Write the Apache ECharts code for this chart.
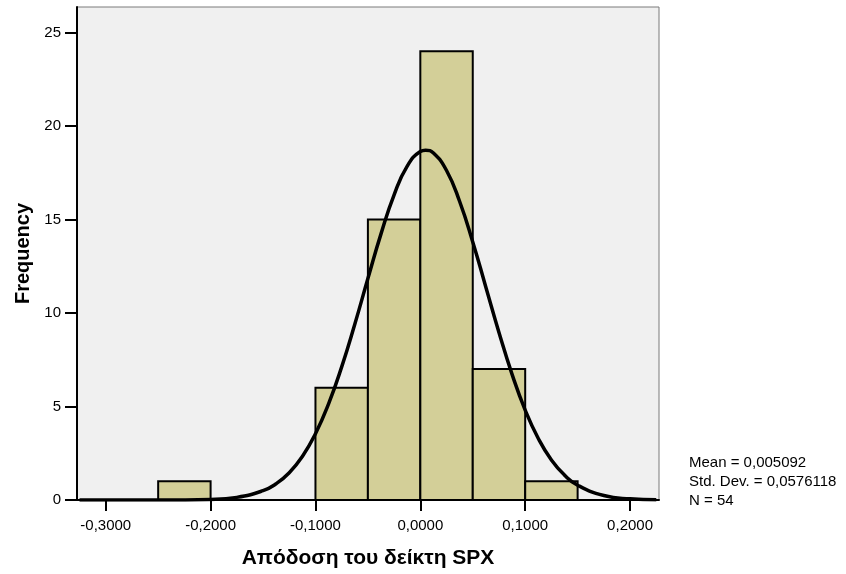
<!DOCTYPE html>
<html>
<head>
<meta charset="utf-8">
<script src="https://cdn.jsdelivr.net/npm/echarts@6/dist/echarts.min.js"></script>
<style>
  html, body { margin: 0; padding: 0; background: #fff; }
  #chart { width: 846px; height: 574px; }
</style>
</head>
<body>
<div id="chart"></div>
<script>
// histogram bins: [from, to, count]
var binStart = [-0.25, -0.10, -0.05, 0.00, 0.05, 0.10];
var binEnd   = [-0.20, -0.05,  0.00, 0.05, 0.10, 0.15];
var binCount = [1, 6, 15, 24, 7, 1];

// normal curve
var curveX = [-0.325, -0.3, -0.25, -0.2, -0.175, -0.15, -0.1375, -0.125, -0.1125, -0.1, -0.0875,
    -0.075, -0.0625, -0.05, -0.0375, -0.025, -0.0125, 0, 0.005, 0.0125, 0.025, 0.0375, 0.05,
    0.0625, 0.075, 0.0875, 0.1, 0.1125, 0.125, 0.1375, 0.15, 0.175, 0.2, 0.225];
var curveY = [0, 0, 0.001, 0.033, 0.14, 0.50, 0.87, 1.46, 2.33, 3.54, 5.14,
    7.12, 9.40, 11.84, 14.23, 16.32, 17.85, 18.63, 18.70, 18.55, 17.62, 15.96, 13.80,
    11.38, 8.96, 6.72, 4.81, 3.29, 2.14, 1.33, 0.79, 0.24, 0.061, 0.013];

var xTicks = [-0.3, -0.2, -0.1, 0, 0.1, 0.2];
var yTicks = [0, 5, 10, 15, 20, 25];
var statLines = ['Mean = 0,005092', 'Std. Dev. = 0,0576118', 'N = 54'];

var font = '"Liberation Sans", Arial, sans-serif';

var chart = echarts.init(document.getElementById('chart'));

var bars = [];
for (var i = 0; i < binCount.length; i++) {
    bars.push([binStart[i], binEnd[i], binCount[i]]);
}
var curve = curveX.map(function (x, i) { return [x, curveY[i]]; });

chart.setOption({
    animation: false,
    grid: {
        left: 77, right: 187, top: 7, bottom: 74,
        show: true,
        backgroundColor: '#f0f0f0',
        borderColor: '#7a7a7a',
        borderWidth: 1
    },
    xAxis: {
        type: 'value',
        min: -0.3274,
        max: 0.2276,
        name: 'Απόδοση του δείκτη SPX',
        nameLocation: 'middle',
        nameGap: 48,
        nameTextStyle: { fontFamily: font, fontSize: 21, fontWeight: 'bold', color: '#000' },
        axisLine: { onZero: false, lineStyle: { color: '#000', width: 2 } },
        axisTick: { show: true, customValues: xTicks, length: 11, lineStyle: { color: '#000', width: 2 } },
        axisLabel: {
            customValues: xTicks,
            fontFamily: font, fontSize: 15, color: '#000', margin: 18,
            formatter: function (v) { return v.toFixed(4).replace('.', ','); }
        },
        splitLine: { show: false }
    },
    yAxis: {
        type: 'value',
        min: 0,
        max: 26.36,
        name: 'Frequency',
        nameLocation: 'middle',
        nameGap: 44,
        nameTextStyle: { fontFamily: font, fontSize: 20, fontWeight: 'bold', color: '#000' },
        axisLine: { show: true, onZero: false, lineStyle: { color: '#000', width: 2 } },
        axisTick: { show: true, customValues: yTicks, length: 12, lineStyle: { color: '#000', width: 2 } },
        axisLabel: { customValues: yTicks, fontFamily: font, fontSize: 15, color: '#000', margin: 16 },
        splitLine: { show: false }
    },
    series: [
        {
            type: 'custom',
            data: bars,
            renderItem: function (params, api) {
                var p0 = api.coord([api.value(0), api.value(2)]);
                var p1 = api.coord([api.value(1), 0]);
                return {
                    type: 'rect',
                    shape: { x: p0[0], y: p0[1], width: p1[0] - p0[0], height: p1[1] - p0[1] },
                    style: { fill: '#d3cf98', stroke: '#000', lineWidth: 2 }
                };
            },
            z: 2
        },
        {
            type: 'line',
            data: curve,
            smooth: true,
            showSymbol: false,
            lineStyle: { color: '#000', width: 3.5 },
            z: 3
        }
    ],
    graphic: statLines.map(function (t, i) {
        return {
            type: 'text',
            left: 689,
            top: 455 + i * 19.2,
            style: { text: t, fontFamily: font, fontSize: 15, fill: '#000' }
        };
    })
});
</script>
</body>
</html>
